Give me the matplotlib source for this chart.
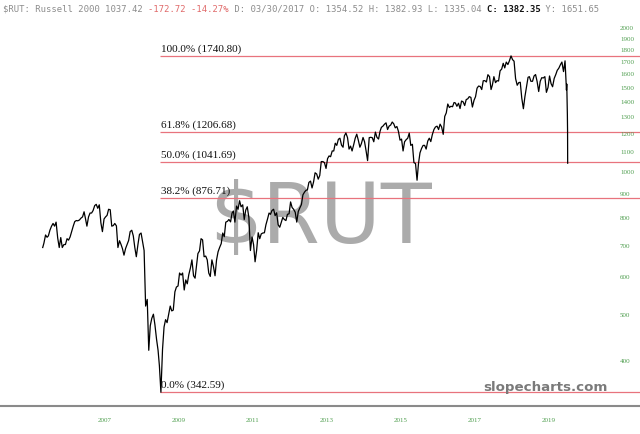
import matplotlib
matplotlib.use('Agg')
import matplotlib.pyplot as plt
import pandas as pd
from matplotlib.ticker import FixedLocator, FuncFormatter, NullLocator

# Russell 2000, two readings per month (mid-month, month end), Jan 2006 - Feb 2020
rut_values = [
    # 2006
    705, 733, 725, 730, 750, 765, 775, 765, 780, 722, 690, 724,
    690, 700, 700, 720, 715, 726, 745, 765, 782, 786, 785, 788,
    # 2007
    795, 800, 820, 795, 765, 800, 815, 815, 825, 845, 850, 834,
    848, 777, 745, 792, 800, 806, 830, 828, 765, 767, 775, 766,
    # 2008
    690, 713, 700, 686, 665, 687, 700, 714, 745, 750, 730, 690,
    660, 700, 735, 740, 710, 680, 520, 537, 420, 473, 490, 500,
    # 2009
    475, 443, 420, 390, 343, 422, 470, 487, 480, 501, 520, 508,
    510, 557, 570, 573, 610, 604, 610, 562, 590, 579, 605, 625,
    # 2010
    650, 602, 595, 628, 670, 679, 720, 716, 660, 662, 650, 610,
    600, 650, 630, 602, 650, 676, 690, 703, 740, 727, 780, 783,
    # 2011
    790, 781, 815, 823, 780, 843, 830, 865, 840, 848, 790, 827,
    840, 797, 680, 726, 700, 644, 680, 741, 720, 737, 740, 741,
    # 2012
    770, 792, 815, 810, 825, 830, 805, 816, 770, 761, 780, 798,
    790, 786, 810, 812, 860, 837, 830, 818, 780, 821, 835, 849,
    # 2013
    890, 902, 910, 911, 945, 951, 920, 947, 990, 984, 960, 977,
    1045, 1045, 1040, 1011, 1060, 1074, 1070, 1100, 1100, 1142, 1130, 1164,
    # 2014
    1170, 1131, 1120, 1183, 1200, 1173, 1110, 1126, 1100, 1134, 1170, 1193,
    1160, 1120, 1140, 1174, 1150, 1101, 1050, 1173, 1175, 1173, 1150, 1205,
    # 2015
    1175, 1165, 1210, 1233, 1240, 1252, 1260, 1220, 1240, 1247, 1265, 1254,
    1230, 1238, 1210, 1159, 1165, 1100, 1150, 1162, 1170, 1199, 1130, 1136,
    # 2016
    1040, 1035, 955, 1034, 1090, 1114, 1130, 1130, 1110, 1154, 1170, 1151,
    1190, 1220, 1235, 1240, 1220, 1252, 1235, 1192, 1300, 1322, 1380, 1357,
    # 2017
    1365, 1362, 1390, 1387, 1365, 1385, 1350, 1400, 1395, 1370, 1410, 1415,
    1430, 1425, 1360, 1405, 1430, 1490, 1505, 1502, 1480, 1544, 1545, 1535,
    # 2018
    1590, 1575, 1480, 1512, 1575, 1530, 1545, 1542, 1620, 1634, 1680, 1643,
    1690, 1670, 1700, 1741, 1710, 1697, 1560, 1511, 1530, 1533, 1420, 1349,
    # 2019
    1430, 1500, 1570, 1575, 1540, 1540, 1580, 1591, 1540, 1466, 1540, 1567,
    1565, 1575, 1460, 1495, 1580, 1523, 1500, 1562, 1590, 1624, 1640, 1668,
    # 2020
    1690, 1614, 1700, 1476,
]
crash_dates = ['2020-03-03', '2020-03-09', '2020-03-11', '2020-03-12']
crash_values = [1520, 1313, 1210, 1037]

fib_pct = ['100.0%', '61.8%', '50.0%', '38.2%', '0.0%']
fib_levels = [1740.80, 1206.68, 1041.69, 876.71, 342.59]
low_date = '2009-03-09'

ytick_values = [400, 500, 600, 700, 800, 900, 1000, 1100, 1200, 1300,
                1400, 1500, 1600, 1700, 1800, 1900, 2000]
xtick_years = [2007, 2009, 2011, 2013, 2015, 2017, 2019]

header_parts = [
    ('\\$RUT: Russell 2000 1037.42 ', '#8c8c8c', 'normal'),
    ('-172.72 -14.27%', '#e06a6a', 'normal'),
    (' D: 03/30/2017 O: 1354.52 H: 1382.93 L: 1335.04 ', '#8c8c8c', 'normal'),
    ('C: 1382.35', '#111111', 'bold'),
    (' Y: 1651.65', '#8c8c8c', 'normal'),
]


def dec_year(d):
    d = pd.Timestamp(d)
    n = 366 if d.is_leap_year else 365
    return d.year + (d.dayofyear - 1) / n


months = pd.date_range('2006-01-01', '2020-02-01', freq='MS')
dates = [pd.Timestamp('2006-01-03')]
for m in months:
    dates += [m + pd.Timedelta(days=14), m + pd.offsets.MonthEnd(0)]
dates += [pd.Timestamp(d) for d in crash_dates]
values = [690] + rut_values + crash_values
t = [dec_year(d) for d in dates]

fig = plt.figure(figsize=(6.4, 4.35), dpi=100)
ax = fig.add_axes([0, 1 - 407 / 435, 1, (407 - 18) / 435])

ax.text(0.5, 1 - (243 - 18) / 389, '\\$RUT', transform=ax.transAxes, ha='center',
        va='baseline', fontsize=60, color='#ababab', zorder=0)

for pct, lvl in zip(fib_pct, fib_levels):
    ax.hlines(lvl, dec_year(low_date), 2030, color='#e8737d', lw=0.9, zorder=1)
    ax.annotate('%s (%.2f)' % (pct, lvl), (dec_year(low_date), lvl),
                xytext=(0.8, 2.2), textcoords='offset points', ha='left',
                va='bottom', fontsize=8, family='Liberation Serif', color='#111111')

ax.plot(t, values, color='black', lw=0.9, zorder=3)

ax.set_yscale('log')
ax.set_ylim(320.9, 2101)
ax.set_xlim(2004.851, 2022.149)

ax.yaxis.tick_right()
ax.yaxis.set_major_locator(FixedLocator(ytick_values))
ax.yaxis.set_major_formatter(FuncFormatter(lambda v, p: '%d' % v))
ax.yaxis.set_minor_locator(NullLocator())
ax.tick_params(axis='y', length=0, pad=-14.4, labelsize=5,
               labelcolor='#4f9e4f', labelfontfamily='Liberation Serif')

ax.set_xticks([y + 0.69 for y in xtick_years])
ax.set_xticklabels([str(y) for y in xtick_years])
ax.tick_params(axis='x', length=0, pad=8, labelsize=5,
               labelcolor='#4f9e4f', labelfontfamily='Liberation Serif')

for s in ['top', 'left', 'right']:
    ax.spines[s].set_visible(False)
ax.spines['bottom'].set_color('#8a8a8a')
ax.spines['bottom'].set_linewidth(1.5)

ax.text(545 / 640, 1 - (388 - 18) / 389, 'slopecharts.com', transform=ax.transAxes,
        ha='center', va='center', fontsize=9.6, fontweight='bold', color='#7a7a7a')

# header line: place each coloured part right after the previous one
renderer = fig.canvas.get_renderer()
x_px = 3
for txt, col, wt in header_parts:
    tt = fig.text(x_px / 640, 1 - 9 / 435, txt, ha='left', va='center',
                  fontsize=6.4, family='DejaVu Sans Mono', color=col, fontweight=wt)
    x_px += tt.get_window_extent(renderer).width

fig.savefig('out.png', dpi=100)
